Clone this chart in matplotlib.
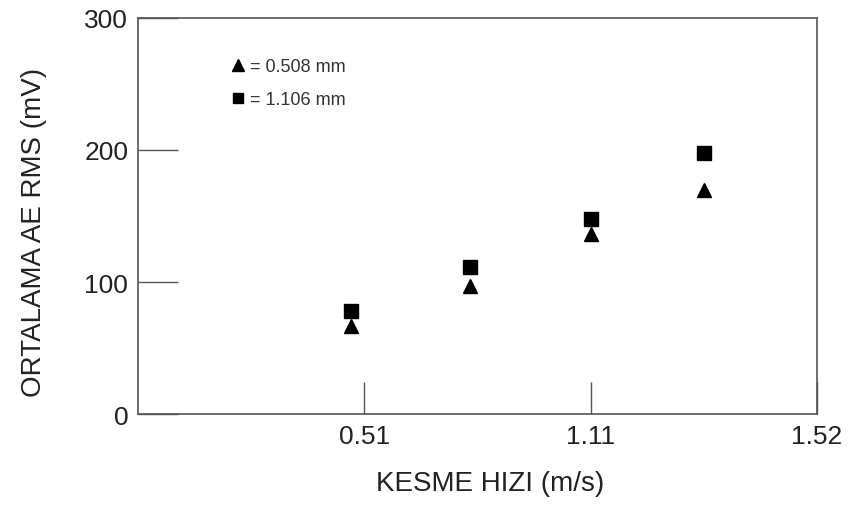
import matplotlib
matplotlib.use("Agg")
from matplotlib import pyplot as plt

plt.rcParams['font.family'] = ['Liberation Sans', 'DejaVu Sans']

# cutting speed (m/s) and mean AE RMS (mV) for two depths of cut
speed = [0.475, 0.79, 1.11, 1.41]
rms_0508 = [67, 97, 136, 170]
rms_1106 = [78, 111, 148, 198]

xtick_pos = [0.51, 1.11, 1.71]
xtick_labels = ['0.51', '1.11', '1.52']
ytick_pos = [0, 100, 200, 300]

fig = plt.figure(figsize=(8.5, 5.06), dpi=100)
ax = fig.add_axes([0.1624, 0.1798, 0.7988, 0.7827])

ax.plot(speed, rms_0508, linestyle='none', marker='^', color='black', markersize=10, label='= 0.508 mm')
ax.plot(speed, rms_1106, linestyle='none', marker='s', color='black', markersize=9.5, label='= 1.106 mm')

ax.set_xlim(-0.09, 1.71)
ax.set_ylim(0, 300)
ax.set_xticks(xtick_pos)
ax.set_xticklabels(xtick_labels)
ax.set_yticks(ytick_pos)

for s in ax.spines.values():
    s.set_color('#555555')
    s.set_linewidth(1.2)

ax.tick_params(axis='y', direction='in', length=29, width=1, color='#555555', labelsize=19, pad=7, labelcolor='#222222')
ax.tick_params(axis='x', direction='in', length=23, width=1, color='#555555', labelsize=19, pad=7, labelcolor='#222222')

ax.set_xlabel('KESME HIZI (m/s)', fontsize=20, color='#222222', labelpad=16)
ax.set_ylabel('ORTALAMA AE RMS (mV)', fontsize=20, color='#222222', labelpad=27)
ax.xaxis.label.set_x(0.518)
ax.yaxis.label.set_y(0.462)

leg = ax.legend(loc='upper left', bbox_to_anchor=(0.115, 0.94), frameon=False, fontsize=13,
                handlelength=0.6, handletextpad=0.4, labelspacing=0.9, markerscale=0.8)
for t in leg.get_texts():
    t.set_color('#333333')

fig.savefig('out.png', dpi=100)
